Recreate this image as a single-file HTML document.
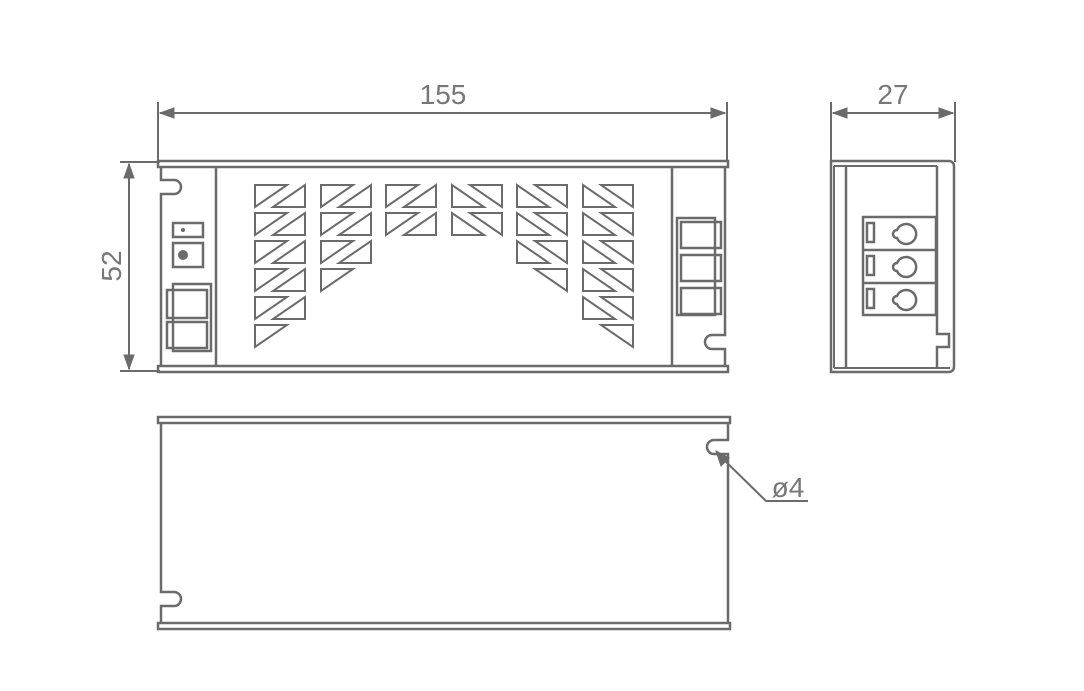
<!DOCTYPE html>
<html><head><meta charset="utf-8"><style>
html,body{margin:0;padding:0;background:#fff;width:1084px;height:691px;overflow:hidden}
svg{display:block}
text{font-family:"Liberation Sans",sans-serif;fill:#777;font-size:28px}
</style></head><body>
<svg width="1084" height="691" viewBox="0 0 1084 691" xmlns="http://www.w3.org/2000/svg">
<defs>
<g id="cL" fill="none" stroke="#6b6b6b" stroke-width="2"><polygon points="0,0 32,0 0,22"/><polygon points="50,0 50,22 18,22"/></g>
<g id="hL" fill="none" stroke="#6b6b6b" stroke-width="2"><polygon points="0,0 32,0 0,22"/></g>
<g id="cR" fill="none" stroke="#6b6b6b" stroke-width="2"><polygon points="0,0 0,22 32,22"/><polygon points="50,0 18,0 50,22"/></g>
<g id="hR" fill="none" stroke="#6b6b6b" stroke-width="2"><polygon points="50,0 18,0 50,22"/></g>
<g id="term" fill="none" stroke="#6b6b6b" stroke-width="2.5"><rect x="0" y="0" width="44" height="30"/><rect x="5" y="5" width="38" height="20"/></g>
</defs>
<g stroke="#6b6b6b" fill="none">
<!-- dimension 155 -->
<line x1="158" y1="102" x2="158" y2="162" stroke-width="2"/>
<line x1="727" y1="102" x2="727" y2="162" stroke-width="2"/>
<line x1="160" y1="113" x2="725" y2="113" stroke-width="2"/>
<polygon points="160,113 174,108 174,118" fill="#6b6b6b"/>
<polygon points="725,113 711,108 711,118" fill="#6b6b6b"/>
<!-- dimension 27 -->
<line x1="831" y1="102" x2="831" y2="162" stroke-width="2"/>
<line x1="955" y1="102" x2="955" y2="162" stroke-width="2"/>
<line x1="833" y1="113" x2="953" y2="113" stroke-width="2"/>
<polygon points="833,113 847,108 847,118" fill="#6b6b6b"/>
<polygon points="953,113 939,108 939,118" fill="#6b6b6b"/>
<!-- dimension 52 -->
<line x1="120" y1="162" x2="160" y2="162" stroke-width="2"/>
<line x1="120" y1="371" x2="160" y2="371" stroke-width="2"/>
<line x1="129" y1="164" x2="129" y2="369" stroke-width="2"/>
<polygon points="129,164 124,178 134,178" fill="#6b6b6b"/>
<polygon points="129,369 124,355 134,355" fill="#6b6b6b"/>

<!-- FRONT VIEW -->
<rect x="158" y="161" width="570" height="6" stroke-width="2.5"/>
<rect x="158" y="366" width="570" height="6" stroke-width="2.5"/>
<path d="M161,167 V180 H174 A6,6 0 0 1 174,194 H161 V366" stroke-width="2.5"/>
<line x1="216" y1="167" x2="216" y2="366" stroke-width="2.5"/>
<line x1="672" y1="167" x2="672" y2="366" stroke-width="2.5"/>
<path d="M725,167 V335 H712 A6,6 0 0 0 712,349 H725 V366" stroke-width="2.5"/>
<rect x="173" y="223" width="30" height="14" stroke-width="2.5"/>
<circle cx="183" cy="230" r="1.5" fill="#6b6b6b"/>
<rect x="173" y="243" width="30" height="24" stroke-width="2.5"/>
<circle cx="183" cy="255" r="5" fill="#6b6b6b" stroke="none"/>
<rect x="173" y="284" width="38" height="67" stroke-width="2.5"/>
<rect x="167" y="290" width="40" height="28" stroke-width="2.5"/>
<rect x="167" y="322" width="40" height="26" stroke-width="2.5"/>
<rect x="677" y="218" width="38" height="97" stroke-width="2.5"/>
<rect x="681" y="222" width="40" height="26" stroke-width="2.5"/>
<rect x="681" y="255" width="40" height="26" stroke-width="2.5"/>
<rect x="681" y="288" width="40" height="26" stroke-width="2.5"/>

<!-- SIDE VIEW -->
<path d="M831,161 H949 A5,5 0 0 1 954,166 V367 A5,5 0 0 1 949,372 H831 Z" stroke-width="2.5"/>
<line x1="834" y1="166" x2="834" y2="368" stroke-width="2"/>
<line x1="834" y1="166" x2="937" y2="166" stroke-width="2"/>
<line x1="834" y1="368" x2="950" y2="368" stroke-width="2"/>
<line x1="846" y1="166" x2="846" y2="368" stroke-width="2.5"/>
<path d="M937,166 V334 H949 V347 H937 V368" stroke-width="2.5"/>
<rect x="863" y="217" width="73" height="98" stroke-width="2.5"/>
<line x1="863" y1="250" x2="936" y2="250" stroke-width="2.5"/>
<line x1="863" y1="283" x2="936" y2="283" stroke-width="2.5"/>
<rect x="867" y="223" width="7" height="19" stroke-width="2.5"/>
<rect x="867" y="256" width="7" height="19" stroke-width="2.5"/>
<rect x="867" y="289" width="7" height="19" stroke-width="2.5"/>
<path d="M897,229 A4,4 0 0 0 897,237 A10,10 0 1 0 897,229 Z" stroke-width="2.5" transform="translate(0,1)"/>
<path d="M897,229 A4,4 0 0 0 897,237 A10,10 0 1 0 897,229 Z" stroke-width="2.5" transform="translate(0,34)"/>
<path d="M897,229 A4,4 0 0 0 897,237 A10,10 0 1 0 897,229 Z" stroke-width="2.5" transform="translate(0,67)"/>

<!-- BOTTOM VIEW -->
<rect x="158" y="417" width="572" height="6" stroke-width="2.5"/>
<rect x="158" y="623" width="572" height="6" stroke-width="2.5"/>
<path d="M161,423 V592 H174 A7,7 0 0 1 174,606 H161 V623" stroke-width="2.5"/>
<path d="M728,423 V440 H714 A7,7 0 0 0 714,454 H728 V623" stroke-width="2.5"/>
<polyline points="718,454 766,501 808,501" stroke-width="2"/>
<polygon points="716,451 729,458 721,466" fill="#6b6b6b"/>
</g>
<!-- vents -->
<use href="#cL" x="255" y="185"/><use href="#cL" x="255" y="213"/><use href="#cL" x="255" y="241"/><use href="#cL" x="255" y="269"/><use href="#cL" x="255" y="297"/><use href="#hL" x="255" y="325"/>
<use href="#cL" x="321" y="185"/><use href="#cL" x="321" y="213"/><use href="#cL" x="321" y="241"/><use href="#hL" x="321" y="269"/>
<use href="#cL" x="386" y="185"/><use href="#cL" x="386" y="213"/>
<use href="#cR" x="452" y="185"/><use href="#cR" x="452" y="213"/>
<use href="#cR" x="517" y="185"/><use href="#cR" x="517" y="213"/><use href="#cR" x="517" y="241"/><use href="#hR" x="517" y="269"/>
<use href="#cR" x="583" y="185"/><use href="#cR" x="583" y="213"/><use href="#cR" x="583" y="241"/><use href="#cR" x="583" y="269"/><use href="#cR" x="583" y="297"/><use href="#hR" x="583" y="325"/>
<text x="443" y="104" text-anchor="middle">155</text>
<text x="893" y="104" text-anchor="middle">27</text>
<text transform="translate(121,266) rotate(-90)" text-anchor="middle">52</text>
<text x="788" y="497" text-anchor="middle" font-size="26">ø4</text>
</svg>
</body></html>
